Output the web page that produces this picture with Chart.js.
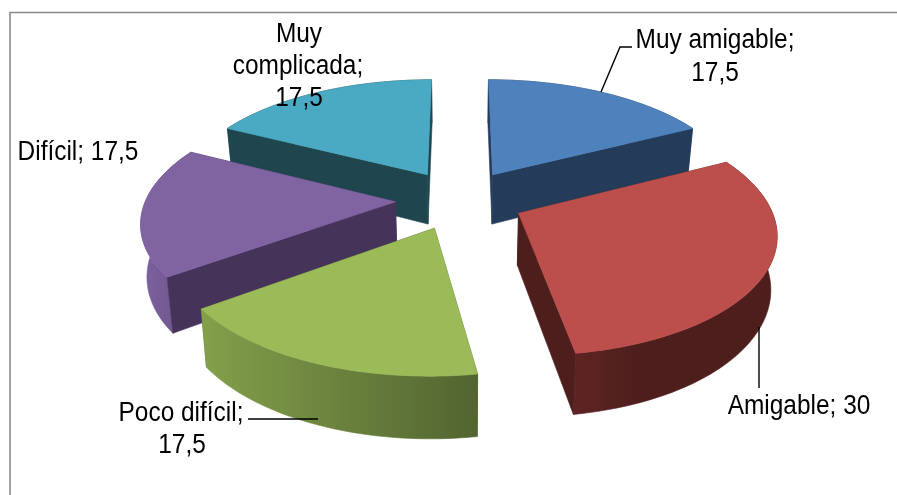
<!DOCTYPE html>
<html>
<head>
<meta charset="utf-8">
<style>
html,body{margin:0;padding:0;background:#fff;overflow:hidden}
canvas{display:block}
</style>
<script src="https://cdn.jsdelivr.net/npm/chart.js@4"></script>
</head>
<body>
<canvas id="c" width="897" height="495"></canvas>
<script>
const categories = ["Muy amigable", "Amigable", "Poco difícil", "Difícil", "Muy complicada"];
const values = [17.5, 30, 17.5, 17.5, 17.5];
const topColors = ["#4F81BD", "#BC4F4C", "#9BBB59", "#8064A2", "#4AA9C3"];
const wallColors = ["#253B5A", "#4E1E1C", "#53662F", "#46335A", "#1F464F"];
const outerStart = ["#253B5A", "#5D2423", "#829F4A", "#7B609D", "#1F464F"];
const outerEnd = ["#253B5A", "#4D1E1C", "#526430", "#6A5387", "#1F464F"];

// label text per category: line breaks and anchor of each block
const labelLayouts = [
  {i:0, lines:[["Muy amigable;",715,48],["17,5",715,81]]},
  {i:1, lines:[["Amigable; 30",799,414]]},
  {i:2, lines:[["Poco difícil;",181,421],["17,5",182,453]]},
  {i:3, lines:[["Difícil; 17,5",78,160]]},
  {i:4, lines:[["Muy",299,42],["complicada;",298,74],["17,5",299,106]]}
];
const leaders = [
  [[601,92],[620,47],[632,47]],
  [[759,327],[759,388]],
  [[318,419],[248,419]]
];

// 3D view of the pie
const VIEW = {cx:460, y0:199.5, A:64.5, B:30, p:0.0388, radius:3.87, depth:51, shrink:0.98};
const drawOrder = [0,4,3,1,2];

function project(x,y,low){
  const w = 1 + VIEW.p*y;
  let sx = VIEW.cx + VIEW.A*x/w;
  let sy = VIEW.y0 - VIEW.B*y/w;
  if(low){ sx = VIEW.cx + (sx-VIEW.cx)*VIEW.shrink; sy += VIEW.depth/w; }
  return [sx,sy];
}
function fillPoly(ctx,pts,fill){
  ctx.beginPath();
  pts.forEach((p,i)=> i?ctx.lineTo(p[0],p[1]):ctx.moveTo(p[0],p[1]));
  ctx.closePath();
  ctx.fillStyle = fill; ctx.strokeStyle = fill; ctx.lineWidth = 0.6;
  ctx.fill(); ctx.stroke();
}

const pie3d = {
  id:'pie3d',
  beforeDraw(chart){
    const ctx = chart.ctx;
    ctx.save();
    ctx.fillStyle = '#fff';
    ctx.fillRect(0,0,chart.width,chart.height);
    ctx.strokeStyle = '#8a8a8a'; ctx.lineWidth = 1.6;
    ctx.beginPath(); ctx.moveTo(10,495); ctx.lineTo(10,12.5); ctx.lineTo(897,12.5); ctx.stroke();
    ctx.restore();
  },
  beforeDatasetDraw(chart,args){
    const ctx = chart.ctx, arcs = args.meta.data;
    ctx.save();
    drawOrder.forEach(i=>{
      const a0 = arcs[i].startAngle, a1 = arcs[i].endAngle, mid = (a0+a1)/2;
      const ex = Math.cos(mid), ey = -Math.sin(mid);
      const N = 60, rim = [];
      for(let k=0;k<=N;k++){
        const a = a0+(a1-a0)*k/N;
        rim.push([ex+VIEW.radius*Math.cos(a), ey-VIEW.radius*Math.sin(a)]);
      }
      const apexT = project(ex,ey,false), apexB = project(ex,ey,true);
      const rimT = rim.map(p=>project(p[0],p[1],false));
      const rimB = rim.map(p=>project(p[0],p[1],true));
      const grad = ctx.createLinearGradient(Math.min(...rimB.map(p=>p[0])),0,Math.max(...rimB.map(p=>p[0])),0);
      const ltr = i===1;
      grad.addColorStop(0, outerStart[i]);
      grad.addColorStop(ltr?0.35:1, outerEnd[i]);
      if(ltr) grad.addColorStop(1, outerEnd[i]);
      const walls = [
        {y:(apexT[1]+rimT[0][1])/2, pts:[apexT,rimT[0],rimB[0],apexB], fill:wallColors[i]},
        {y:(apexT[1]+rimT[N][1])/2, pts:[apexT,rimT[N],rimB[N],apexB], fill:wallColors[i]},
        {y:rimT.reduce((s,p)=>s+p[1],0)/rimT.length, pts:rimT.concat(rimB.slice().reverse()), fill:grad}
      ].sort((p,q)=>p.y-q.y);
      walls.forEach(w=>fillPoly(ctx,w.pts,w.fill));
      fillPoly(ctx,[apexT].concat(rimT),topColors[i]);
    });
    ctx.restore();
    return false;
  },
  afterDraw(chart){
    const ctx = chart.ctx;
    ctx.save();
    ctx.strokeStyle = '#000'; ctx.lineWidth = 1.4;
    leaders.forEach(l=>{
      ctx.beginPath();
      l.forEach((p,i)=> i?ctx.lineTo(p[0],p[1]):ctx.moveTo(p[0],p[1]));
      ctx.stroke();
    });
    ctx.fillStyle = '#000';
    ctx.font = '27px "Liberation Sans", Arial, sans-serif';
    ctx.textAlign = 'center';
    ctx.textBaseline = 'alphabetic';
    labelLayouts.forEach(b=>b.lines.forEach(l=>{
      ctx.save();
      ctx.translate(l[1],l[2]);
      ctx.scale(0.905,1);
      ctx.fillText(l[0],0,0);
      ctx.restore();
    }));
    ctx.restore();
  }
};

new Chart(document.getElementById('c'),{
  type:'pie',
  data:{labels:categories, datasets:[{data:values, backgroundColor:topColors, borderWidth:0}]},
  options:{
    responsive:false, animation:false,
    plugins:{legend:{display:false}, tooltip:{enabled:false}}
  },
  plugins:[pie3d]
});
</script>
</body>
</html>
